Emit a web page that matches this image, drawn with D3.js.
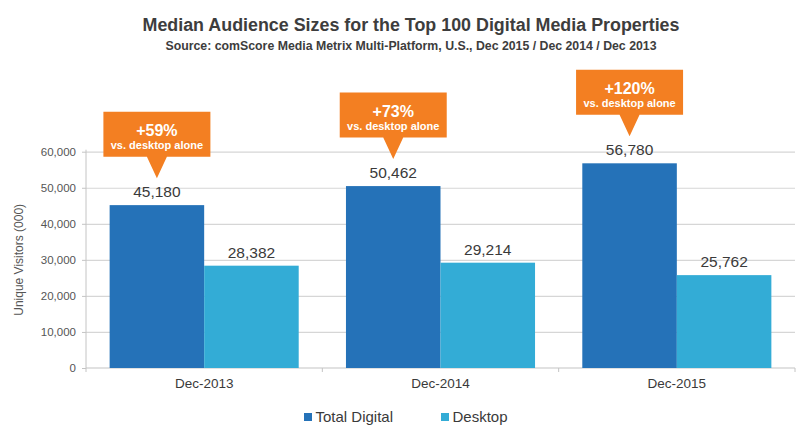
<!DOCTYPE html>
<html>
<head>
<meta charset="utf-8">
<script src="https://cdn.jsdelivr.net/npm/d3@7"></script>
<style>
  html, body { margin: 0; padding: 0; background: #ffffff; }
  svg { display: block; font-family: "Liberation Sans", Arial, Helvetica, sans-serif; }
</style>
</head>
<body>
<svg id="chart" width="800" height="440"></svg>
<script>
const categories = ["Dec-2013", "Dec-2014", "Dec-2015"];
const seriesNames = ["Total Digital", "Desktop"];
const totalDigital = [45180, 50462, 56780];
const desktop = [28382, 29214, 25762];
const calloutMain = ["+59%", "+73%", "+120%"];
const calloutSub = "vs. desktop alone";
const yTicks = [0, 10000, 20000, 30000, 40000, 50000, 60000];
const titleText = "Median Audience Sizes for the Top 100 Digital Media Properties";
const subtitleText = "Source: comScore Media Metrix Multi-Platform, U.S., Dec 2015 / Dec 2014 / Dec 2013";
const yTitle = "Unique Visitors (000)";

const colors = { "Total Digital": "#2572b8", "Desktop": "#33acd6" };
const orange = "#f37f22";
const textDark = "#3a3a3a";

const svg = d3.select("#chart");
const m = { left: 86, right: 795, top: 151.7, bottom: 368 };

const x = d3.scaleBand().domain(categories).range([m.left, m.right]).paddingInner(0).paddingOuter(0);
const bw = x.bandwidth();
const x1 = d3.scaleBand().domain(seriesNames).range([bw * 0.1, bw * 0.9]).padding(0);
const y = d3.scaleLinear().domain([0, 60000]).range([m.bottom, m.top]);

const rows = categories.map((c, i) => ({ cat: c, values: [
  { key: "Total Digital", value: totalDigital[i] },
  { key: "Desktop", value: desktop[i] }
], callout: calloutMain[i] }));

// Title
svg.append("text").attr("x", 411).attr("y", 30.5).attr("text-anchor", "middle")
  .attr("font-size", 18).attr("font-weight", "bold").attr("fill", "#3d3d3d")
  .attr("textLength", 537).attr("lengthAdjust", "spacingAndGlyphs").text(titleText);
svg.append("text").attr("x", 411).attr("y", 49.5).attr("text-anchor", "middle")
  .attr("font-size", 12).attr("font-weight", "bold").attr("fill", "#3d3d3d")
  .attr("textLength", 491).attr("lengthAdjust", "spacingAndGlyphs").text(subtitleText);

// Gridlines
const grid = svg.append("g").attr("transform", `translate(${m.left},0)`)
  .call(d3.axisLeft(y).tickValues(yTicks.filter(d => d > 0)).tickSize(-(m.right - m.left)).tickFormat(""));
grid.select(".domain").remove();
grid.selectAll("line").attr("stroke", "#d6d6d6").attr("stroke-width", 1.2);

// Y axis
const ya = svg.append("g").attr("transform", `translate(${m.left},0)`)
  .call(d3.axisLeft(y).tickValues(yTicks).tickSize(4).tickPadding(6).tickFormat(d3.format(",")));
ya.select(".domain").attr("stroke", "#c4c4c4").attr("d", `M0,${m.top - 2}V${m.bottom + 4}`);
ya.selectAll("line").attr("stroke", "#c4c4c4");
ya.selectAll("text").attr("font-size", 11.5).attr("fill", "#555").attr("font-family", "Liberation Sans, Arial, sans-serif");

svg.append("text").attr("transform", `translate(23,${(m.top + m.bottom) / 2 + 0}) rotate(-90)`)
  .attr("text-anchor", "middle").attr("font-size", 12).attr("fill", "#555").text(yTitle);

// X axis
svg.append("line").attr("x1", m.left).attr("x2", m.right).attr("y1", m.bottom).attr("y2", m.bottom)
  .attr("stroke", "#c4c4c4").attr("stroke-width", 1.2);
const bounds = categories.map(c => x(c) + bw);
svg.selectAll(".xtick").data(bounds).join("line").attr("class", "xtick")
  .attr("x1", d => d).attr("x2", d => d).attr("y1", m.bottom).attr("y2", m.bottom + 4).attr("stroke", "#c4c4c4");
const xa = svg.append("g").attr("transform", `translate(0,${m.bottom})`)
  .call(d3.axisBottom(x).tickSize(0).tickPadding(10));
xa.select(".domain").remove();
xa.selectAll("text").attr("font-size", 13.5).attr("fill", textDark).attr("font-family", "Liberation Sans, Arial, sans-serif");

// Bars
const groups = svg.selectAll(".cat").data(rows).join("g").attr("class", "cat")
  .attr("transform", d => `translate(${x(d.cat)},0)`);
groups.selectAll("rect").data(d => d.values).join("rect")
  .attr("x", d => x1(d.key)).attr("width", x1.bandwidth())
  .attr("y", d => y(d.value)).attr("height", d => y(0) - y(d.value))
  .attr("fill", d => colors[d.key]);
groups.selectAll(".val").data(d => d.values).join("text").attr("class", "val")
  .attr("x", d => x1(d.key) + x1.bandwidth() / 2).attr("y", d => y(d.value) - 8)
  .attr("text-anchor", "middle").attr("font-size", 15.5).attr("fill", textDark)
  .text(d => d3.format(",")(d.value));

// Callouts
const bxW = 107, bxH = 45, tipLen = 21.5, tipHalf = 10;
groups.each(function(d) {
  const g = d3.select(this);
  const cx = x1("Total Digital") + x1.bandwidth() / 2;
  const tipY = y(d.values[0].value) - 27;
  const bottom = tipY - tipLen;
  const top = bottom - bxH;
  const p = d3.path();
  p.moveTo(cx - bxW / 2, top);
  p.lineTo(cx + bxW / 2, top);
  p.lineTo(cx + bxW / 2, bottom);
  p.lineTo(cx + tipHalf, bottom);
  p.lineTo(cx, tipY);
  p.lineTo(cx - tipHalf, bottom);
  p.lineTo(cx - bxW / 2, bottom);
  p.closePath();
  g.append("path").attr("d", p.toString()).attr("fill", orange);
  g.append("text").attr("x", cx).attr("y", top + 24).attr("text-anchor", "middle")
    .attr("font-size", 16).attr("font-weight", "bold").attr("fill", "#fff").text(d.callout);
  g.append("text").attr("x", cx).attr("y", top + 37.5).attr("text-anchor", "middle")
    .attr("font-size", 11).attr("font-weight", "bold").attr("fill", "#fff").text(calloutSub);
});

// Legend
const legendX = [304, 441];
const lg = svg.selectAll(".leg").data(seriesNames).join("g").attr("class", "leg")
  .attr("transform", (d, i) => `translate(${legendX[i]},413)`);
lg.append("rect").attr("width", 8).attr("height", 8).attr("fill", d => colors[d]);
lg.append("text").attr("x", 11.5).attr("y", 9).attr("font-size", 15).attr("fill", textDark).text(d => d);
</script>
</body>
</html>
